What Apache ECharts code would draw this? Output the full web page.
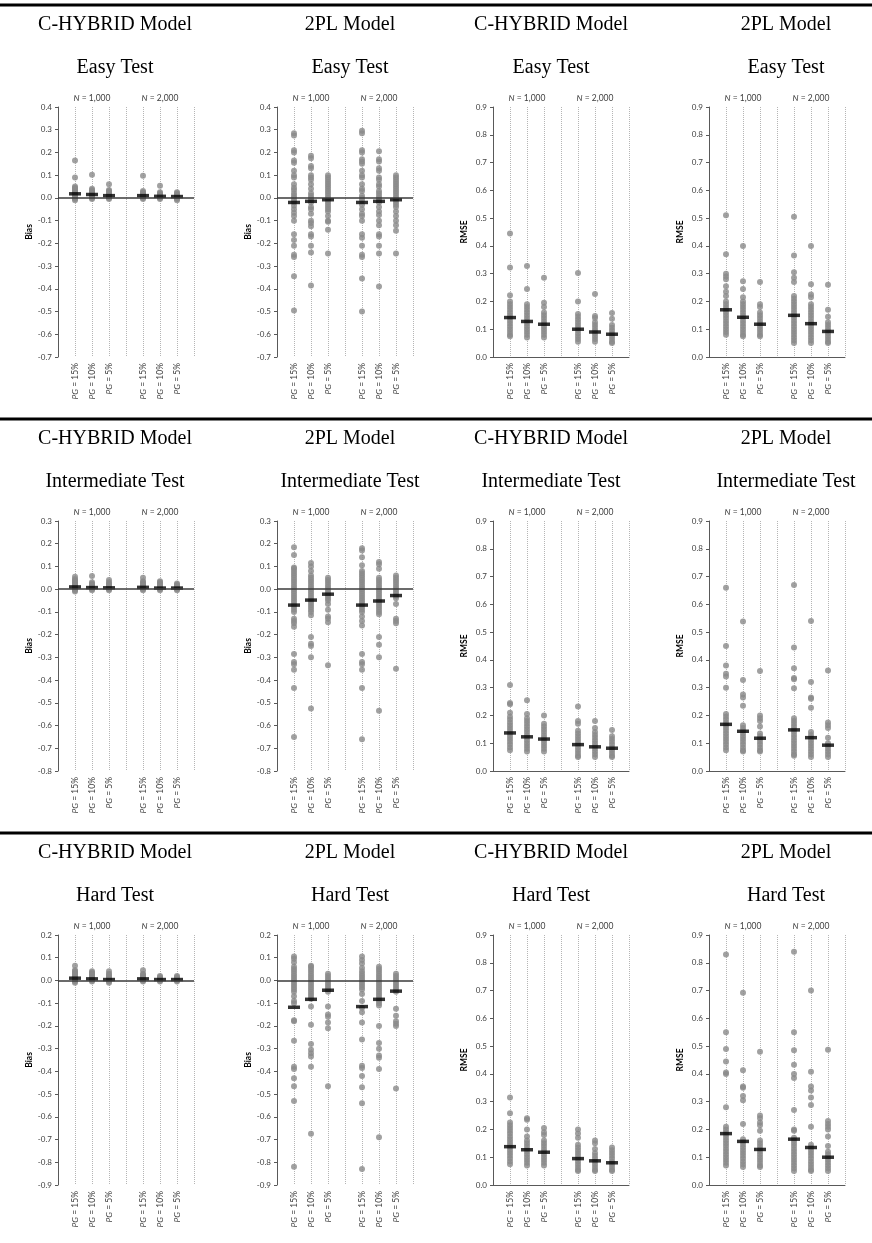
<!DOCTYPE html>
<html>
<head>
<meta charset="utf-8">
<script src="https://cdn.jsdelivr.net/npm/echarts@6/dist/echarts.min.js"></script>
<style>
  html, body { margin: 0; padding: 0; background: #fff; }
  #main { width: 872px; height: 1243px; }
</style>
</head>
<body>
<div id="main"></div>
<script>
// categories
const pgLevels = ['15%', '10%', '5%'];
const nLevels = ['1,000', '2,000'];
const groupX = [1, 2, 3, 5, 6, 7]; // N=1,000: PG 15/10/5, gap, N=2,000: PG 15/10/5
const rowTests = ['Easy Test', 'Intermediate Test', 'Hard Test'];
const colModels = ['C-HYBRID Model', '2PL Model', 'C-HYBRID Model', '2PL Model'];
const colMetrics = ['Bias', 'Bias', 'RMSE', 'RMSE'];
const biasRanges = [[-0.7, 0.4], [-0.8, 0.3], [-0.9, 0.2]];
const rmseRange = [0, 0.9];

// ---- Easy test ----
const easyHybridBias = [
  [0.165, 0.09, 0.05, 0.045, 0.04, 0.035, 0.03, 0.025, 0.02, 0.015, 0.01, 0.005, 0, -0.005, -0.01],
  [0.102, 0.04, 0.035, 0.03, 0.025, 0.02, 0.015, 0.01, 0.005, 0, -0.005],
  [0.06, 0.035, 0.03, 0.025, 0.02, 0.015, 0.01, 0.005, 0, -0.005],
  [0.098, 0.03, 0.025, 0.02, 0.015, 0.01, 0.005, 0, -0.005],
  [0.054, 0.025, 0.02, 0.015, 0.01, 0.005, 0, -0.005],
  [0.025, 0.02, 0.015, 0.01, 0.005, 0, -0.005, -0.01]
];
const easyHybridBiasMean = [0.018, 0.015, 0.01, 0.01, 0.007, 0.006];

const easy2plBias = [
  [0.285, 0.275, 0.21, 0.2, 0.165, 0.155, 0.12, 0.1, 0.09, 0.06, 0.045, 0.035, 0.02, 0.01, 0, -0.01, -0.02, -0.035, -0.05, -0.065, -0.08, -0.1, -0.16, -0.185, -0.21, -0.25, -0.26, -0.345, -0.495],
  [0.185, 0.175, 0.14, 0.13, 0.1, 0.09, 0.08, 0.06, 0.04, 0.02, 0.01, 0, -0.01, -0.02, -0.04, -0.05, -0.07, -0.1, -0.11, -0.125, -0.16, -0.17, -0.21, -0.24, -0.385],
  [0.1, 0.09, 0.08, 0.07, 0.06, 0.05, 0.04, 0.03, 0.02, 0.01, 0, -0.01, -0.02, -0.03, -0.04, -0.05, -0.06, -0.08, -0.1, -0.105, -0.14, -0.245],
  [0.295, 0.285, 0.21, 0.2, 0.17, 0.16, 0.15, 0.12, 0.1, 0.09, 0.06, 0.04, 0.03, 0.01, 0, -0.01, -0.03, -0.05, -0.07, -0.08, -0.1, -0.16, -0.175, -0.21, -0.25, -0.26, -0.355, -0.5],
  [0.205, 0.17, 0.16, 0.13, 0.12, 0.09, 0.08, 0.06, 0.05, 0.03, 0.02, 0.01, 0, -0.01, -0.02, -0.04, -0.06, -0.075, -0.1, -0.12, -0.16, -0.17, -0.21, -0.245, -0.39],
  [0.1, 0.09, 0.08, 0.07, 0.06, 0.05, 0.04, 0.03, 0.02, 0.01, 0, -0.01, -0.02, -0.03, -0.04, -0.06, -0.08, -0.1, -0.12, -0.145, -0.245]
];
const easy2plBiasMean = [-0.02, -0.015, -0.008, -0.02, -0.015, -0.008];

const easyHybridRmse = [
  [0.445, 0.322, 0.222, 0.2, 0.19, 0.18, 0.17, 0.16, 0.15, 0.14, 0.13, 0.12, 0.11, 0.1, 0.09, 0.08, 0.075],
  [0.328, 0.245, 0.19, 0.18, 0.17, 0.16, 0.15, 0.14, 0.13, 0.12, 0.11, 0.1, 0.09, 0.08, 0.07],
  [0.285, 0.195, 0.18, 0.16, 0.15, 0.14, 0.13, 0.12, 0.11, 0.1, 0.09, 0.08, 0.07],
  [0.302, 0.2, 0.155, 0.145, 0.135, 0.125, 0.115, 0.105, 0.095, 0.085, 0.075, 0.065, 0.055],
  [0.227, 0.148, 0.14, 0.125, 0.115, 0.105, 0.095, 0.085, 0.075, 0.065, 0.055],
  [0.158, 0.138, 0.115, 0.105, 0.095, 0.085, 0.075, 0.065, 0.055, 0.05]
];
const easyHybridRmseMean = [0.142, 0.128, 0.118, 0.1, 0.09, 0.082];

const easy2plRmse = [
  [0.51, 0.37, 0.3, 0.29, 0.28, 0.255, 0.235, 0.22, 0.2, 0.19, 0.18, 0.17, 0.16, 0.15, 0.14, 0.13, 0.12, 0.11, 0.1, 0.09, 0.08],
  [0.4, 0.273, 0.245, 0.215, 0.2, 0.19, 0.18, 0.17, 0.16, 0.15, 0.14, 0.13, 0.12, 0.11, 0.1, 0.09, 0.08, 0.075],
  [0.27, 0.19, 0.18, 0.16, 0.15, 0.14, 0.13, 0.12, 0.11, 0.1, 0.09, 0.08, 0.075],
  [0.505, 0.365, 0.305, 0.285, 0.27, 0.22, 0.21, 0.2, 0.19, 0.18, 0.17, 0.16, 0.15, 0.14, 0.13, 0.12, 0.11, 0.1, 0.09, 0.08, 0.07, 0.06, 0.05],
  [0.4, 0.262, 0.225, 0.215, 0.19, 0.18, 0.17, 0.16, 0.15, 0.14, 0.13, 0.12, 0.11, 0.1, 0.09, 0.08, 0.07, 0.06, 0.05],
  [0.26, 0.17, 0.145, 0.125, 0.115, 0.105, 0.095, 0.085, 0.075, 0.065, 0.055, 0.05]
];
const easy2plRmseMean = [0.17, 0.143, 0.118, 0.15, 0.12, 0.092];

// ---- Intermediate test ----
const intHybridBias = [
  [0.055, 0.045, 0.04, 0.035, 0.03, 0.025, 0.02, 0.015, 0.01, 0.005, 0, -0.005, -0.01],
  [0.058, 0.03, 0.025, 0.02, 0.015, 0.01, 0.005, 0, -0.005],
  [0.04, 0.03, 0.025, 0.02, 0.015, 0.01, 0.005, 0, -0.005],
  [0.05, 0.035, 0.03, 0.025, 0.02, 0.015, 0.01, 0.005, 0, -0.005],
  [0.035, 0.03, 0.025, 0.02, 0.015, 0.01, 0.005, 0, -0.005],
  [0.025, 0.02, 0.015, 0.01, 0.005, 0, -0.005]
];
const intHybridBiasMean = [0.01, 0.007, 0.006, 0.008, 0.005, 0.005];

const int2plBias = [
  [0.185, 0.15, 0.095, 0.09, 0.08, 0.07, 0.06, 0.05, 0.04, 0.03, 0.02, 0.01, 0, -0.01, -0.02, -0.03, -0.04, -0.05, -0.06, -0.07, -0.08, -0.09, -0.1, -0.13, -0.14, -0.15, -0.165, -0.285, -0.32, -0.33, -0.355, -0.435, -0.65],
  [0.115, 0.1, 0.08, 0.06, 0.05, 0.04, 0.03, 0.02, 0.01, 0, -0.01, -0.02, -0.03, -0.04, -0.05, -0.06, -0.07, -0.08, -0.09, -0.1, -0.115, -0.21, -0.24, -0.25, -0.3, -0.525],
  [0.05, 0.04, 0.03, 0.02, 0.01, 0, -0.01, -0.02, -0.03, -0.04, -0.05, -0.065, -0.09, -0.12, -0.13, -0.145, -0.335],
  [0.18, 0.17, 0.14, 0.105, 0.08, 0.07, 0.06, 0.05, 0.04, 0.03, 0.02, 0.01, 0, -0.01, -0.02, -0.03, -0.04, -0.05, -0.06, -0.07, -0.08, -0.09, -0.1, -0.12, -0.14, -0.16, -0.285, -0.32, -0.33, -0.355, -0.435, -0.66],
  [0.12, 0.11, 0.09, 0.05, 0.04, 0.03, 0.02, 0.01, 0, -0.01, -0.02, -0.03, -0.04, -0.05, -0.06, -0.07, -0.08, -0.09, -0.1, -0.11, -0.21, -0.245, -0.3, -0.535],
  [0.06, 0.05, 0.04, 0.03, 0.02, 0.01, 0, -0.01, -0.02, -0.03, -0.04, -0.065, -0.13, -0.14, -0.15, -0.35]
];
const int2plBiasMean = [-0.07, -0.048, -0.022, -0.07, -0.052, -0.028];

const intHybridRmse = [
  [0.31, 0.245, 0.24, 0.21, 0.195, 0.185, 0.175, 0.165, 0.155, 0.145, 0.135, 0.125, 0.115, 0.105, 0.095, 0.085, 0.075],
  [0.255, 0.205, 0.19, 0.18, 0.17, 0.16, 0.15, 0.14, 0.13, 0.12, 0.11, 0.1, 0.09, 0.08, 0.07],
  [0.2, 0.17, 0.16, 0.15, 0.14, 0.13, 0.12, 0.11, 0.1, 0.09, 0.08, 0.07],
  [0.232, 0.18, 0.17, 0.145, 0.135, 0.125, 0.115, 0.105, 0.095, 0.085, 0.075, 0.065, 0.055, 0.05],
  [0.18, 0.155, 0.14, 0.13, 0.12, 0.11, 0.1, 0.09, 0.08, 0.07, 0.06, 0.05],
  [0.148, 0.125, 0.115, 0.105, 0.095, 0.085, 0.075, 0.065, 0.055, 0.05]
];
const intHybridRmseMean = [0.137, 0.123, 0.115, 0.095, 0.087, 0.082];

const int2plRmse = [
  [0.66, 0.45, 0.38, 0.35, 0.34, 0.3, 0.205, 0.195, 0.185, 0.175, 0.165, 0.155, 0.145, 0.135, 0.125, 0.115, 0.105, 0.095, 0.085, 0.075],
  [0.538, 0.328, 0.275, 0.265, 0.235, 0.165, 0.155, 0.145, 0.135, 0.125, 0.115, 0.105, 0.095, 0.085, 0.075, 0.07],
  [0.36, 0.2, 0.19, 0.18, 0.16, 0.135, 0.125, 0.115, 0.105, 0.095, 0.085, 0.075, 0.07],
  [0.67, 0.445, 0.37, 0.335, 0.33, 0.298, 0.19, 0.18, 0.17, 0.16, 0.15, 0.14, 0.13, 0.12, 0.11, 0.1, 0.09, 0.08, 0.07, 0.06, 0.055],
  [0.54, 0.32, 0.265, 0.26, 0.228, 0.14, 0.13, 0.12, 0.11, 0.1, 0.09, 0.08, 0.07, 0.06, 0.05],
  [0.362, 0.175, 0.165, 0.155, 0.12, 0.1, 0.09, 0.08, 0.07, 0.06, 0.05]
];
const int2plRmseMean = [0.168, 0.143, 0.118, 0.148, 0.12, 0.093];

// ---- Hard test ----
const hardHybridBias = [
  [0.065, 0.045, 0.04, 0.035, 0.03, 0.025, 0.02, 0.015, 0.01, 0.005, 0, -0.005, -0.01],
  [0.04, 0.035, 0.03, 0.025, 0.02, 0.015, 0.01, 0.005, 0, -0.005],
  [0.04, 0.03, 0.025, 0.02, 0.015, 0.01, 0.005, 0, -0.005, -0.01],
  [0.045, 0.03, 0.025, 0.02, 0.015, 0.01, 0.005, 0, -0.005],
  [0.02, 0.015, 0.01, 0.005, 0, -0.005],
  [0.02, 0.015, 0.01, 0.005, 0, -0.005]
];
const hardHybridBiasMean = [0.01, 0.007, 0.004, 0.007, 0.004, 0.004];

const hard2plBias = [
  [0.105, 0.095, 0.08, 0.06, 0.05, 0.04, 0.03, 0.02, 0.01, 0, -0.01, -0.02, -0.03, -0.04, -0.05, -0.07, -0.09, -0.1, -0.175, -0.18, -0.265, -0.38, -0.39, -0.43, -0.465, -0.53, -0.82],
  [0.065, 0.06, 0.05, 0.04, 0.03, 0.02, 0.01, 0, -0.01, -0.02, -0.03, -0.04, -0.05, -0.06, -0.07, -0.08, -0.115, -0.195, -0.28, -0.305, -0.32, -0.335, -0.38, -0.675],
  [0.03, 0.02, 0.01, 0, -0.01, -0.02, -0.03, -0.04, -0.05, -0.115, -0.15, -0.16, -0.185, -0.21, -0.465],
  [0.105, 0.09, 0.075, 0.055, 0.04, 0.03, 0.02, 0.01, 0, -0.01, -0.02, -0.03, -0.04, -0.06, -0.09, -0.12, -0.14, -0.185, -0.26, -0.375, -0.385, -0.42, -0.47, -0.54, -0.83],
  [0.06, 0.05, 0.04, 0.03, 0.02, 0.01, 0, -0.01, -0.02, -0.03, -0.04, -0.05, -0.06, -0.07, -0.08, -0.09, -0.1, -0.11, -0.2, -0.275, -0.3, -0.33, -0.34, -0.39, -0.69],
  [0.03, 0.02, 0.01, 0, -0.01, -0.02, -0.03, -0.04, -0.05, -0.125, -0.155, -0.18, -0.19, -0.2, -0.475]
];
const hard2plBiasMean = [-0.118, -0.083, -0.043, -0.115, -0.083, -0.047];

const hardHybridRmse = [
  [0.315, 0.258, 0.225, 0.215, 0.205, 0.195, 0.185, 0.175, 0.165, 0.155, 0.145, 0.135, 0.125, 0.115, 0.105, 0.095, 0.085, 0.075],
  [0.24, 0.235, 0.2, 0.175, 0.16, 0.15, 0.14, 0.13, 0.12, 0.11, 0.1, 0.09, 0.08, 0.07],
  [0.205, 0.19, 0.18, 0.16, 0.15, 0.14, 0.13, 0.12, 0.11, 0.1, 0.09, 0.08, 0.07],
  [0.2, 0.185, 0.17, 0.145, 0.135, 0.125, 0.115, 0.105, 0.095, 0.085, 0.075, 0.065, 0.055, 0.05],
  [0.16, 0.15, 0.13, 0.115, 0.105, 0.095, 0.085, 0.075, 0.065, 0.055, 0.05],
  [0.135, 0.125, 0.115, 0.105, 0.095, 0.085, 0.075, 0.065, 0.055, 0.05]
];
const hardHybridRmseMean = [0.138, 0.127, 0.118, 0.095, 0.087, 0.08];

const hard2plRmse = [
  [0.83, 0.55, 0.49, 0.445, 0.405, 0.4, 0.28, 0.21, 0.2, 0.19, 0.18, 0.17, 0.16, 0.15, 0.14, 0.13, 0.12, 0.11, 0.1, 0.09, 0.08, 0.07],
  [0.692, 0.413, 0.355, 0.35, 0.32, 0.305, 0.22, 0.165, 0.155, 0.145, 0.135, 0.125, 0.115, 0.105, 0.095, 0.085, 0.075, 0.065],
  [0.48, 0.25, 0.24, 0.225, 0.215, 0.195, 0.16, 0.15, 0.14, 0.13, 0.12, 0.11, 0.1, 0.09, 0.08, 0.07, 0.065],
  [0.84, 0.55, 0.485, 0.433, 0.4, 0.385, 0.27, 0.2, 0.195, 0.17, 0.16, 0.15, 0.14, 0.13, 0.12, 0.11, 0.1, 0.09, 0.08, 0.07, 0.06, 0.05],
  [0.7, 0.408, 0.355, 0.34, 0.315, 0.288, 0.21, 0.145, 0.135, 0.125, 0.115, 0.105, 0.095, 0.085, 0.075, 0.065, 0.055, 0.05],
  [0.487, 0.23, 0.22, 0.21, 0.2, 0.175, 0.14, 0.12, 0.11, 0.1, 0.09, 0.08, 0.07, 0.06, 0.05]
];
const hard2plRmseMean = [0.185, 0.157, 0.128, 0.165, 0.135, 0.1];

const panelDots = [
  [easyHybridBias, easy2plBias, easyHybridRmse, easy2plRmse],
  [intHybridBias, int2plBias, intHybridRmse, int2plRmse],
  [hardHybridBias, hard2plBias, hardHybridRmse, hard2plRmse]
];
const panelMeans = [
  [easyHybridBiasMean, easy2plBiasMean, easyHybridRmseMean, easy2plRmseMean],
  [intHybridBiasMean, int2plBiasMean, intHybridRmseMean, int2plRmseMean],
  [hardHybridBiasMean, hard2plBiasMean, hardHybridRmseMean, hard2plRmseMean]
];

// layout
const gridLeft = [58, 277, 493, 709];
const gridWidth = 136;
const gridHeight = 250;
const rowTop = 107;
const rowStep = 414;
const titleX = [115, 350, 551, 786];

const chart = echarts.init(document.getElementById('main'));

const font = 'Lato, "Open Sans", sans-serif';
const serif = '"Liberation Serif", "Times New Roman", serif';
const axisGray = '#595959';
const labelGray = '#404040';

const grid = [], xAxis = [], yAxis = [], series = [], title = [];

for (let r = 0; r < 3; r++) {
  for (let c = 0; c < 4; c++) {
    const i = r * 4 + c;
    const isBias = c < 2;
    const range = isBias ? biasRanges[r] : rmseRange;
    const top = rowTop + r * rowStep;

    grid.push({ left: gridLeft[c], top: top, width: gridWidth, height: gridHeight });

    title.push({
      text: colModels[c], left: titleX[c], top: 15 + r * rowStep, textAlign: 'center', padding: 0,
      textStyle: { fontFamily: serif, fontSize: 20, fontWeight: 'normal', color: '#000' }
    });
    title.push({
      text: rowTests[r], left: titleX[c], top: 58 + r * rowStep, textAlign: 'center', padding: 0,
      textStyle: { fontFamily: serif, fontSize: 20, fontWeight: 'normal', color: '#000' }
    });

    // bottom axis: PG labels
    xAxis.push({
      gridIndex: i, type: 'value', min: 0, max: 8, interval: 1, position: 'bottom',
      axisLine: { show: !isBias, onZero: false, lineStyle: { color: axisGray } },
      axisTick: { show: false },
      axisLabel: {
        rotate: 90, margin: 6, fontSize: 8.5, color: labelGray, fontFamily: font,
        formatter: function (v) {
          const k = groupX.indexOf(v);
          return k < 0 ? '' : '{i|PG} = ' + pgLevels[k % 3];
        },
        rich: { i: { fontStyle: 'italic', fontSize: 8.5, color: labelGray, fontFamily: font } }
      },
      splitLine: { show: true, lineStyle: { type: 'dotted', color: '#b5b5b5', width: 1 } }
    });
    // top axis: N labels
    xAxis.push({
      gridIndex: i, type: 'value', min: 0, max: 8, interval: 1, position: 'top',
      axisLine: { show: false }, axisTick: { show: false }, splitLine: { show: false },
      axisLabel: {
        margin: 4, fontSize: 8.5, color: labelGray, fontFamily: font,
        formatter: function (v) {
          return v === 2 ? '{i|N} = ' + nLevels[0] : v === 6 ? '{i|N} = ' + nLevels[1] : '';
        },
        rich: { i: { fontStyle: 'italic', fontSize: 8.5, color: labelGray, fontFamily: font } }
      }
    });

    yAxis.push({
      gridIndex: i, type: 'value', min: range[0], max: range[1], interval: 0.1,
      name: colMetrics[c], nameLocation: 'middle', nameGap: 24,
      nameTextStyle: { fontFamily: font, fontSize: 8.5, fontWeight: 'bold', color: '#000' },
      axisLine: { show: true, onZero: false, lineStyle: { color: axisGray } },
      axisTick: { show: true, length: 3, lineStyle: { color: axisGray } },
      axisLabel: {
        fontSize: 8, margin: 6, color: labelGray, fontFamily: font,
        formatter: function (v) { return Math.abs(v) < 1e-9 ? '0.0' : v.toFixed(1); }
      },
      splitLine: { show: false }
    });

    const dots = [];
    panelDots[r][c].forEach(function (vals, g) {
      vals.forEach(function (v) { dots.push([groupX[g], v]); });
    });
    const dotSeries = {
      type: 'scatter', xAxisIndex: 2 * i, yAxisIndex: i, data: dots,
      symbol: 'circle', symbolSize: 6, itemStyle: { color: '#8a8a8a' }, z: 2
    };
    if (isBias) {
      dotSeries.markLine = {
        silent: true, symbol: ['none', 'none'], label: { show: false },
        lineStyle: { color: '#3a3a3a', width: 1.5, type: 'solid' },
        data: [{ yAxis: 0 }]
      };
    }
    series.push(dotSeries);
    series.push({
      type: 'scatter', xAxisIndex: 2 * i, yAxisIndex: i,
      data: panelMeans[r][c].map(function (m, g) { return [groupX[g], m]; }),
      symbol: 'rect', symbolSize: [12, 3.5], itemStyle: { color: '#000' }, z: 3
    });
  }
}

// horizontal rules between rows
const rules = [5, 419, 833].map(function (y) {
  return { type: 'line', shape: { x1: 0, y1: y, x2: 872, y2: y }, style: { stroke: '#000', lineWidth: 3 }, silent: true };
});

chart.setOption({
  animation: false,
  backgroundColor: '#fff',
  title: title,
  grid: grid,
  xAxis: xAxis,
  yAxis: yAxis,
  series: series,
  graphic: rules
});
</script>
</body>
</html>
